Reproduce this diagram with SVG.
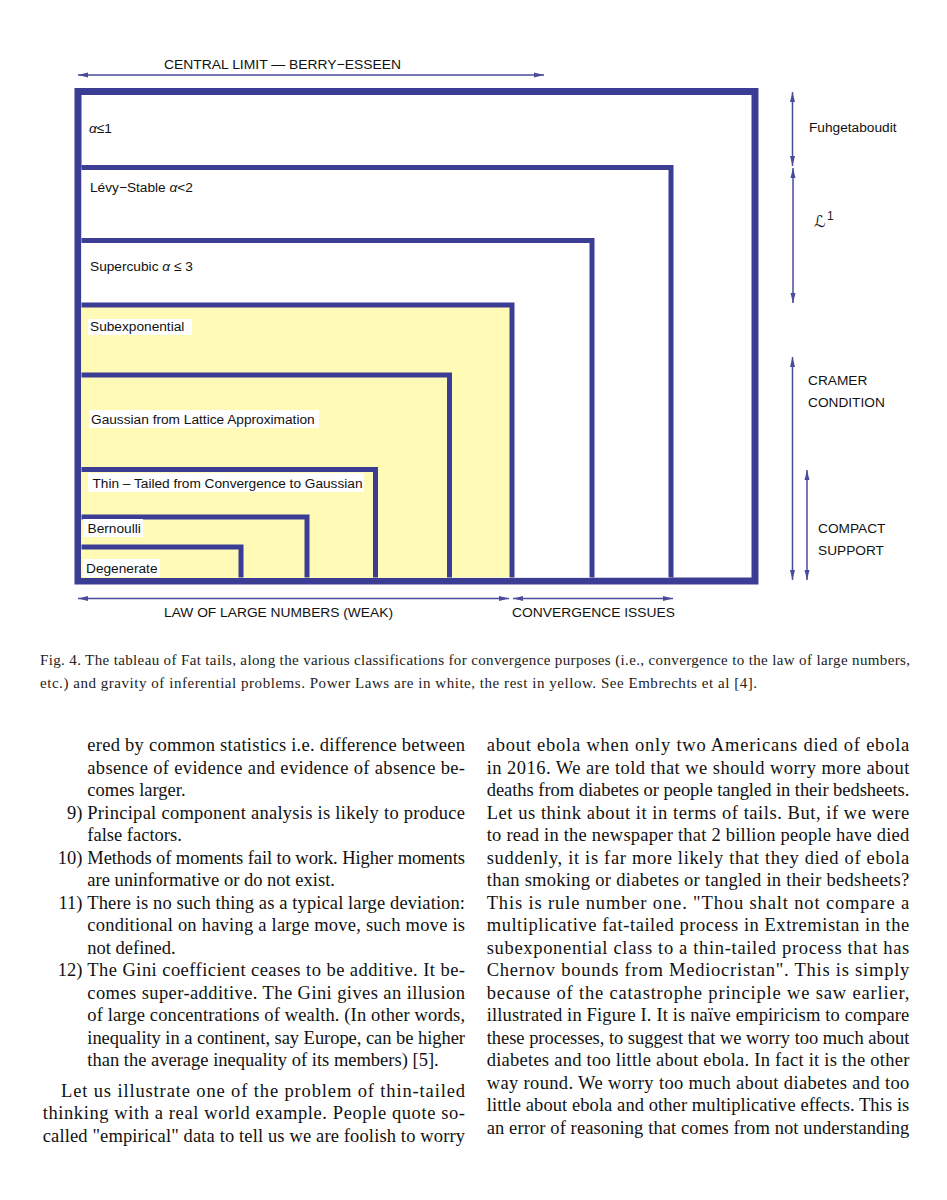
<svg xmlns="http://www.w3.org/2000/svg" width="947" height="1200" viewBox="0 0 947 1200">
<style>
.frame{fill:#ffffff;stroke:#3b3d94;stroke-width:7}
.edge{fill:none;stroke:#3b3d94;stroke-width:5}
.yel{fill:#fffbb6;stroke:none}
.wht{fill:#ffffff;stroke:none}
.lbl{font-family:"Liberation Sans",Arial,sans-serif;font-size:13.7px;fill:#111}
.conn{stroke:#4a4b9c;stroke-width:1.5;fill:none;marker-start:url(#ah);marker-end:url(#ah)}
.cap{font-family:"Liberation Serif","Times New Roman",serif;font-size:15px;fill:#222}
.body{font-family:"Liberation Serif","Times New Roman",serif;font-size:18.5px;fill:#111}
</style>
<defs>
<marker id="ah" markerWidth="10" markerHeight="6" refX="10" refY="3" orient="auto-start-reverse" markerUnits="userSpaceOnUse">
<path d="M0,0.5 L10,3 L0,5.5 z" fill="#4a4b9c"/>
</marker>
</defs>
<rect width="947" height="1200" fill="#ffffff"/>

<g id="node-alpha1">
<rect class="frame" x="78" y="91.5" width="677" height="489.5"/>
<text class="lbl" x="89" y="133"><tspan font-style="italic">α</tspan>≤1</text>
</g>
<g id="node-levy">
<rect class="wht" x="81.5" y="167.5" width="589.5" height="410"/>
<path class="edge" d="M81.5,167.5 H671 V577.5"/>
<text class="lbl" x="90" y="192">Lévy−Stable <tspan font-style="italic">α</tspan>&lt;2</text>
</g>
<g id="node-supercubic">
<rect class="wht" x="81.5" y="240.5" width="510.5" height="337"/>
<path class="edge" d="M81.5,240.5 H592 V577.5"/>
<text class="lbl" x="90" y="271">Supercubic  <tspan font-style="italic">α</tspan> ≤ 3</text>
</g>
<g id="node-subexponential">
<rect class="yel" x="81.5" y="305" width="430.5" height="272.5"/>
<path class="edge" d="M81.5,305 H512 V577.5"/>
<rect class="wht" x="88" y="319" width="104" height="16"/>
<text class="lbl" x="90" y="331">Subexponential</text>
</g>
<g id="node-gaussian-lattice">
<rect class="yel" x="81.5" y="375" width="368" height="202.5"/>
<path class="edge" d="M81.5,375 H449.5 V577.5"/>
<rect class="wht" x="89" y="410" width="230" height="18"/>
<text class="lbl" x="91" y="424">Gaussian from Lattice Approximation</text>
</g>
<g id="node-thin-tailed">
<rect class="yel" x="81.5" y="469.5" width="294" height="108"/>
<path class="edge" d="M81.5,469.5 H375.5 V577.5"/>
<rect class="wht" x="88" y="473" width="276" height="19"/>
<text class="lbl" x="92.5" y="488" textLength="270" lengthAdjust="spacing">Thin – Tailed from Convergence  to Gaussian</text>
</g>
<g id="node-bernoulli">
<rect class="yel" x="81.5" y="517" width="225.5" height="60.5"/>
<path class="edge" d="M81.5,517 H307 V577.5"/>
<rect class="wht" x="83" y="519" width="60" height="18"/>
<text class="lbl" x="87.5" y="533">Bernoulli</text>
</g>
<g id="node-degenerate">
<rect class="yel" x="81.5" y="547" width="159.5" height="30.5"/>
<path class="edge" d="M81.5,547 H241 V577.5"/>
<rect class="wht" x="83" y="559" width="77" height="18"/>
<text class="lbl" x="86" y="573">Degenerate</text>
</g>

<g id="connectors">
<line class="conn" x1="78" y1="75" x2="544" y2="75"/>
<line class="conn" x1="78" y1="598.5" x2="509" y2="598.5"/>
<line class="conn" x1="513" y1="598.5" x2="673" y2="598.5"/>
<line class="conn" x1="792.5" y1="92" x2="792.5" y2="166"/>
<line class="conn" x1="793" y1="168" x2="793" y2="303"/>
<line class="conn" x1="792.5" y1="357" x2="792.5" y2="580"/>
<line class="conn" x1="807" y1="470" x2="807" y2="580"/>
</g>

<g id="axis-labels">
<text class="lbl" x="164" y="69" textLength="237" lengthAdjust="spacingAndGlyphs">CENTRAL LIMIT — BERRY−ESSEEN</text>
<text class="lbl" x="164" y="617" textLength="229" lengthAdjust="spacingAndGlyphs">LAW OF LARGE NUMBERS (WEAK)</text>
<text class="lbl" x="512" y="617" textLength="163" lengthAdjust="spacingAndGlyphs">CONVERGENCE ISSUES</text>
<text class="lbl" x="809" y="132">Fuhgetaboudit</text>
<text x="814" y="227" font-family="DejaVu Sans,sans-serif" font-style="italic" font-size="16" fill="#222">ℒ<tspan font-family="Liberation Sans,sans-serif" font-style="normal" font-size="12" dx="1.5" dy="-7">1</tspan></text>
<text class="lbl" x="808" y="385">CRAMER</text>
<text class="lbl" x="808" y="407">CONDITION</text>
<text class="lbl" x="818" y="533">COMPACT</text>
<text class="lbl" x="818" y="555">SUPPORT</text>
</g>

<g id="caption">
<text class="cap" x="40" y="665" textLength="870" lengthAdjust="spacing">Fig. 4.  The tableau of Fat tails, along the various classifications for convergence purposes (i.e., convergence to the law of large numbers,</text>
<text class="cap" x="40" y="688" textLength="717" lengthAdjust="spacing">etc.) and gravity of inferential problems. Power Laws are in white, the rest in yellow. See Embrechts et al [4].</text>
</g>

<g id="left-column">
<text class="body" x="87.3" y="751" textLength="377.7" lengthAdjust="spacing">ered by common statistics i.e. difference between</text>
<text class="body" x="87.3" y="773.5" textLength="377.7" lengthAdjust="spacing">absence of evidence and evidence of absence be-</text>
<text class="body" x="87.3" y="796">comes larger.</text>
<text class="body" x="82.5" y="818.5" text-anchor="end">9)</text>
<text class="body" x="87.3" y="818.5" textLength="377.7" lengthAdjust="spacing">Principal component analysis is likely to produce</text>
<text class="body" x="87.3" y="841">false factors.</text>
<text class="body" x="82.5" y="863.5" text-anchor="end">10)</text>
<text class="body" x="87.3" y="863.5" textLength="377.7" lengthAdjust="spacing">Methods of moments fail to work. Higher moments</text>
<text class="body" x="87.3" y="886">are uninformative or do not exist.</text>
<text class="body" x="82.5" y="908.5" text-anchor="end">11)</text>
<text class="body" x="87.3" y="908.5" textLength="377.7" lengthAdjust="spacing">There is no such thing as a typical large deviation:</text>
<text class="body" x="87.3" y="931" textLength="377.7" lengthAdjust="spacing">conditional on having a large move, such move is</text>
<text class="body" x="87.3" y="953.5">not defined.</text>
<text class="body" x="82.5" y="976" text-anchor="end">12)</text>
<text class="body" x="87.3" y="976" textLength="377.7" lengthAdjust="spacing">The Gini coefficient ceases to be additive. It be-</text>
<text class="body" x="87.3" y="998.5" textLength="377.7" lengthAdjust="spacing">comes super-additive. The Gini gives an illusion</text>
<text class="body" x="87.3" y="1021" textLength="377.7" lengthAdjust="spacing">of large concentrations of wealth. (In other words,</text>
<text class="body" x="87.3" y="1043.5" textLength="377.7" lengthAdjust="spacing">inequality in a continent, say Europe, can be higher</text>
<text class="body" x="87.3" y="1066">than the average inequality of its members) [5].</text>
<text class="body" x="61" y="1096.5" textLength="404" lengthAdjust="spacing">Let us illustrate one of the problem of thin-tailed</text>
<text class="body" x="42.7" y="1119" textLength="422.3" lengthAdjust="spacing">thinking with a real world example. People quote so-</text>
<text class="body" x="42.7" y="1141.5" textLength="422.3" lengthAdjust="spacing">called "empirical" data to tell us we are foolish to worry</text>
</g>

<g id="right-column">
<text class="body" x="486.7" y="751" textLength="422.6" lengthAdjust="spacing">about ebola when only two Americans died of ebola</text>
<text class="body" x="486.7" y="773.5" textLength="422.6" lengthAdjust="spacing">in 2016. We are told that we should worry more about</text>
<text class="body" x="486.7" y="796" textLength="422.6" lengthAdjust="spacing">deaths from diabetes or people tangled in their bedsheets.</text>
<text class="body" x="486.7" y="818.5" textLength="422.6" lengthAdjust="spacing">Let us think about it in terms of tails. But, if we were</text>
<text class="body" x="486.7" y="841" textLength="422.6" lengthAdjust="spacing">to read in the newspaper that 2 billion people have died</text>
<text class="body" x="486.7" y="863.5" textLength="422.6" lengthAdjust="spacing">suddenly, it is far more likely that they died of ebola</text>
<text class="body" x="486.7" y="886" textLength="422.6" lengthAdjust="spacing">than smoking or diabetes or tangled in their bedsheets?</text>
<text class="body" x="486.7" y="908.5" textLength="422.6" lengthAdjust="spacing">This is rule number one. "Thou shalt not compare a</text>
<text class="body" x="486.7" y="931" textLength="422.6" lengthAdjust="spacing">multiplicative fat-tailed process in Extremistan in the</text>
<text class="body" x="486.7" y="953.5" textLength="422.6" lengthAdjust="spacing">subexponential class to a thin-tailed process that has</text>
<text class="body" x="486.7" y="976" textLength="422.6" lengthAdjust="spacing">Chernov bounds from Mediocristan". This is simply</text>
<text class="body" x="486.7" y="998.5" textLength="422.6" lengthAdjust="spacing">because of the catastrophe principle we saw earlier,</text>
<text class="body" x="486.7" y="1021" textLength="422.6" lengthAdjust="spacing">illustrated in Figure I. It is naïve empiricism to compare</text>
<text class="body" x="486.7" y="1043.5" textLength="422.6" lengthAdjust="spacing">these processes, to suggest that we worry too much about</text>
<text class="body" x="486.7" y="1066" textLength="422.6" lengthAdjust="spacing">diabetes and too little about ebola. In fact it is the other</text>
<text class="body" x="486.7" y="1088.5" textLength="422.6" lengthAdjust="spacing">way round. We worry too much about diabetes and too</text>
<text class="body" x="486.7" y="1111" textLength="422.6" lengthAdjust="spacing">little about ebola and other multiplicative effects. This is</text>
<text class="body" x="486.7" y="1133.5" textLength="422.6" lengthAdjust="spacing">an error of reasoning that comes from not understanding</text>
</g>
</svg>
